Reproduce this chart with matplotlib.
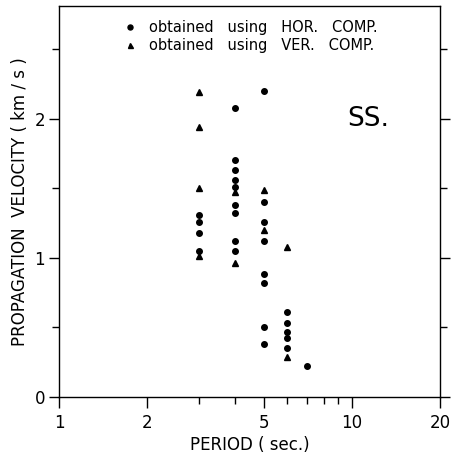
import matplotlib
matplotlib.use("Agg")
import matplotlib.pyplot as plt
from matplotlib.ticker import FixedLocator, NullFormatter

# periods (sec) and propagation velocities (km/s)
hor_period = [3, 3, 3, 3,
              4, 4, 4, 4, 4, 4, 4, 4, 4,
              5, 5, 5, 5, 5, 5, 5, 5,
              6, 6, 6, 6, 6,
              7]
hor_vel = [1.31, 1.26, 1.18, 1.05,
           2.08, 1.70, 1.63, 1.56, 1.51, 1.38, 1.32, 1.12, 1.05,
           2.20, 1.40, 1.26, 1.12, 0.88, 0.82, 0.50, 0.38,
           0.61, 0.53, 0.47, 0.42, 0.35,
           0.22]

ver_period = [3, 3, 3, 3, 4, 4, 5, 5, 6, 6]
ver_vel = [2.19, 1.94, 1.50, 1.01, 1.47, 0.96, 1.49, 1.20, 1.08, 0.29]

x_major = [1, 2, 5, 10, 20]
x_minor = [3, 4, 6, 7, 8, 9]

plt.rcParams['font.family'] = ['DejaVu Sans']

fig = plt.figure(figsize=(4.57, 4.61), dpi=100)
ax = fig.add_axes([0.129, 0.139, 0.834, 0.848])

ax.plot(hor_period, hor_vel, 'o', color='black', markersize=4.0, linestyle='none',
        label='obtained   using   HOR.   COMP.')
ax.plot(ver_period, ver_vel, '^', color='black', markersize=4.0, linestyle='none',
        label='obtained   using   VER.   COMP.')

ax.set_xscale('log')
ax.set_xlim(1, 20)
ax.set_ylim(0, 2.81)

ax.xaxis.set_major_locator(FixedLocator(x_major))
ax.xaxis.set_minor_locator(FixedLocator(x_minor))
ax.set_xticklabels([str(v) for v in x_major])
ax.xaxis.set_minor_formatter(NullFormatter())

ax.yaxis.set_major_locator(FixedLocator([0, 1, 2]))
ax.yaxis.set_minor_locator(FixedLocator([0.5, 1.5, 2.5]))
ax.set_yticklabels(['0', '1', '2'])

ax.tick_params(axis='x', which='major', direction='out', length=8, width=1, labelsize=12, pad=4)
ax.tick_params(axis='x', which='minor', direction='out', length=5, width=1)
ax.tick_params(axis='y', which='major', direction='out', length=7, width=1, labelsize=12,
               right=True, pad=3)
ax.tick_params(axis='y', which='minor', direction='out', length=5, width=1, right=True)

for s in ax.spines.values():
    s.set_linewidth(1)

ax.set_xlabel('PERIOD ( sec.)', fontsize=12, labelpad=3)
ax.set_ylabel('PROPAGATION  VELOCITY ( km / s )', fontsize=12, labelpad=4)

ax.text(11.4, 2.0, 'SS.', fontsize=19, ha='center', va='center')

ax.legend(loc='upper left', bbox_to_anchor=(0.14, 0.99), frameon=False, fontsize=10.5,
          handletextpad=0.8, borderpad=0.2, labelspacing=0.2, handlelength=1.0,
          markerscale=0.9)

fig.savefig('out.png', dpi=100)
